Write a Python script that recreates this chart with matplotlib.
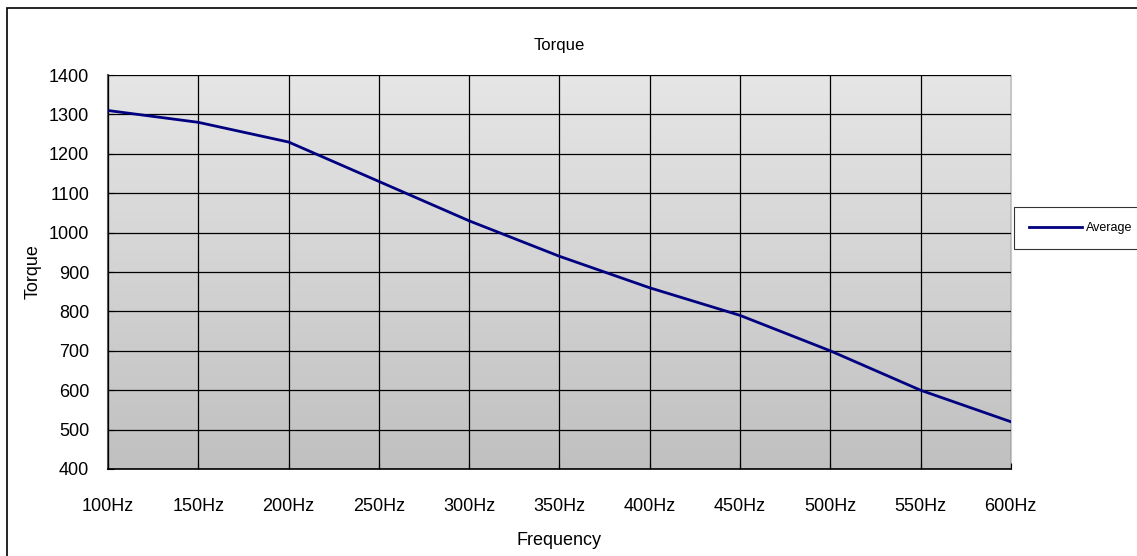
import numpy as np
import matplotlib
matplotlib.use("Agg")
import matplotlib.pyplot as plt
from matplotlib.patches import Rectangle

plt.rcParams['font.family'] = ['Liberation Sans Narrow', 'Liberation Sans', 'DejaVu Sans']

freq = [100, 150, 200, 250, 300, 350, 400, 450, 500, 550, 600]
freq_labels = [f"{f}Hz" for f in freq]
torque = [1310, 1280, 1230, 1130, 1030, 940, 860, 790, 700, 600, 520]

fig = plt.figure(figsize=(11.37, 5.56), dpi=100)
ax = fig.add_axes([0.095, 0.1565, 0.794, 0.7085])

# gradient background, light on top, darker at bottom
grad = np.linspace(0, 1, 256).reshape(-1, 1)
ax.imshow(grad, cmap=matplotlib.colors.LinearSegmentedColormap.from_list("g", ["#e6e6e6", "#c0c0c0"]),
          extent=[100, 600, 400, 1400], aspect='auto', zorder=0, origin='upper')

ax.plot(freq, torque, color='#000080', lw=2, label='Average', zorder=3)

ax.set_xlim(100, 600)
ax.set_ylim(400, 1400)
ax.set_xticks(freq)
ax.set_xticklabels(freq_labels)
ax.set_yticks(range(400, 1401, 100))
ax.grid(True, color='black', lw=0.9, zorder=1)
ax.set_axisbelow(False)
ax.tick_params(direction='in', length=4, labelsize=13)
ax.tick_params(axis='y', pad=13.5)
ax.tick_params(axis='x', pad=21)

for s in ['top', 'right']:
    ax.spines[s].set_color('#c8c8c8')
ax.spines['left'].set_color('#555555')
ax.spines['left'].set_linewidth(1.5)
ax.spines['bottom'].set_linewidth(1.2)

ax.set_title("Torque", fontsize=12, pad=18)
ax.set_xlabel("Frequency", fontsize=13, labelpad=12)
ax.set_ylabel("Torque", fontsize=13, labelpad=5)

leg = ax.legend(loc='center left', bbox_to_anchor=(1.004, 0.612), frameon=True,
                fancybox=False, fontsize=9, handlelength=4.2, handletextpad=0.35,
                borderpad=1.2, borderaxespad=0)
leg.get_frame().set_edgecolor('black')
leg.get_frame().set_linewidth(0.8)

fig.patches.append(Rectangle((7 / 1137, -0.05), 1.1, 1 - 8 / 556 + 0.05, transform=fig.transFigure,
                             fill=False, edgecolor='black', lw=1.2))

fig.savefig("out.png", dpi=100)
